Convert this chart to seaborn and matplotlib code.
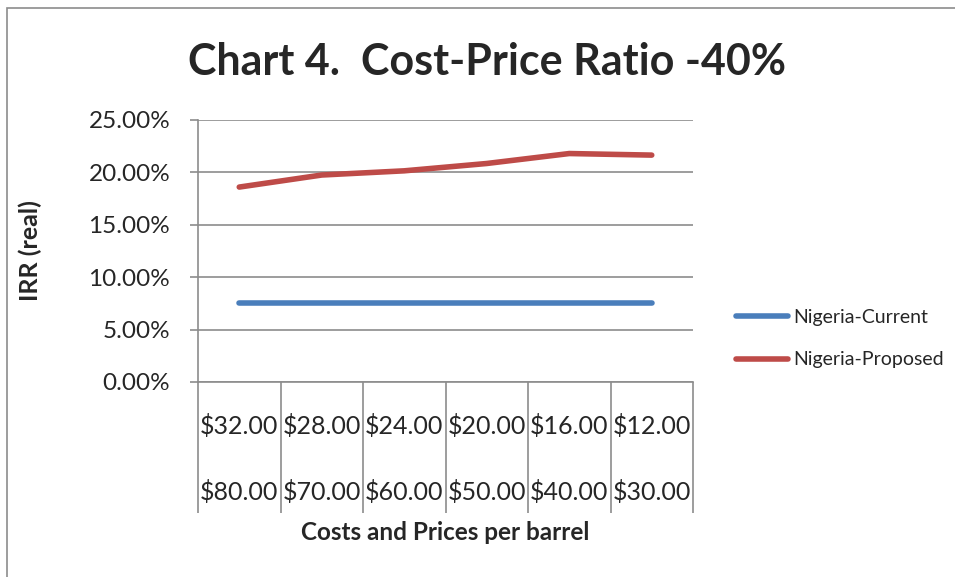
import pandas as pd
import seaborn as sns
import matplotlib.pyplot as plt
from matplotlib.patches import Rectangle
from matplotlib.ticker import PercentFormatter

# values
costs = ["$32.00", "$28.00", "$24.00", "$20.00", "$16.00", "$12.00"]
prices = ["$80.00", "$70.00", "$60.00", "$50.00", "$40.00", "$30.00"]
current = [7.5, 7.5, 7.5, 7.5, 7.5, 7.5]
proposed = [18.6, 19.75, 20.15, 20.85, 21.8, 21.65]

df = pd.DataFrame({
    "pos": list(range(len(costs))) * 2,
    "irr": current + proposed,
    "series": ["Nigeria-Current"] * len(costs) + ["Nigeria-Proposed"] * len(costs),
})

sns.set_style("white")
plt.rcParams['font.family'] = ['Lato', 'DejaVu Sans']

fig = plt.figure(figsize=(9.55, 5.77), dpi=100)
ax = fig.add_axes([198 / 955, 195 / 577, 495 / 955, 262 / 577])

sns.lineplot(data=df, x="pos", y="irr", hue="series",
             palette=["#4A7EBB", "#BE4B48"], linewidth=4,
             solid_capstyle="round", ax=ax)

ax.set_xlim(-0.5, len(costs) - 0.5)
ax.set_ylim(0, 25)
ax.set_yticks([0, 5, 10, 15, 20, 25])
ax.yaxis.set_major_formatter(PercentFormatter(decimals=2))
ax.grid(axis="y", color="#8c8c8c", linewidth=1.2)

# two-level category labels
ax.set_xticks(range(len(costs)))
ax.set_xticklabels([c + "\n" + p for c, p in zip(costs, prices)], linespacing=3.1)
ax.set_xticks([i - 0.5 for i in range(len(costs) + 1)], minor=True)
ax.tick_params(axis="x", which="major", length=0, pad=23, labelsize=18, bottom=True)
ax.tick_params(axis="x", which="minor", length=94, width=1.2, color="#8c8c8c",
               direction="out", bottom=True)
ax.tick_params(axis="y", length=6, width=1.2, color="#8c8c8c", pad=14, labelsize=17.5, left=True)

for side in ["top", "right"]:
    ax.spines[side].set_visible(False)
for side in ["left", "bottom"]:
    ax.spines[side].set_color("#8c8c8c")
    ax.spines[side].set_linewidth(1.2)

ax.set_xlabel("Costs and Prices per barrel", fontsize=17.5, fontweight="bold")
ax.xaxis.set_label_coords(0.5, -(533 - 382) / 262, transform=ax.transAxes)
ax.xaxis.label.set_va("center")
ax.set_ylabel("IRR (real)", fontsize=18, fontweight="bold")
ax.yaxis.set_label_coords(-(198 - 30) / 495, 0.5)
ax.yaxis.label.set_va("center")

fig.suptitle("Chart 4.  Cost-Price Ratio -40%", x=487 / 955, y=1 - 62 / 577,
             va="center", fontsize=31, fontweight="bold")

ax.legend(frameon=False, loc="center left", bbox_to_anchor=(1.052, 0.165),
          fontsize=14, handlelength=2.65, labelspacing=1.3, handletextpad=0.3)

# chart outer border
fig.add_artist(Rectangle((7 / 955, -0.1), 1.2, 1 - 8 / 577 + 0.1, transform=fig.transFigure,
                         fill=False, edgecolor="#8c8c8c", linewidth=1.2))

fig.savefig("out.png", dpi=100, facecolor="white")
